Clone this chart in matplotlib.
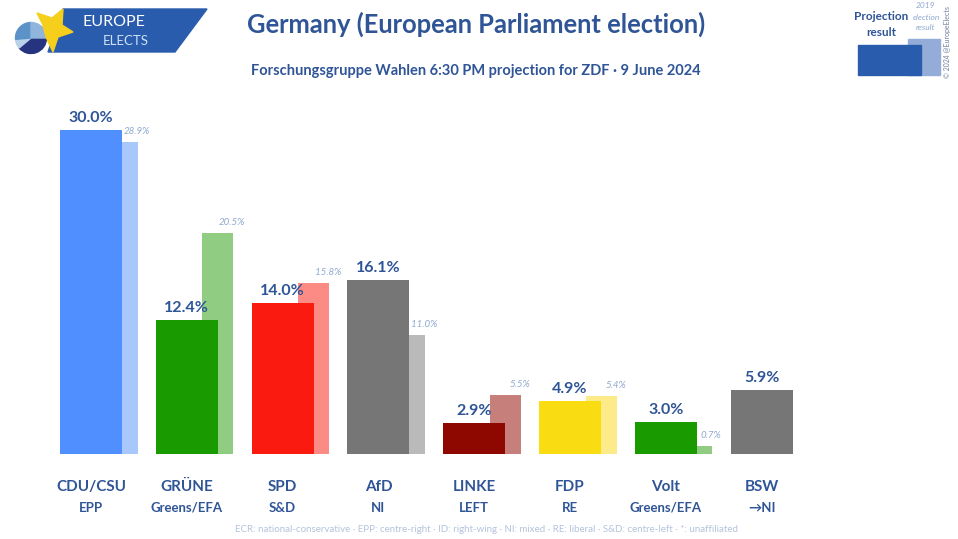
import matplotlib
matplotlib.use('Agg')
import matplotlib.pyplot as plt
from matplotlib.patches import Polygon, Wedge, Rectangle

plt.rcParams['font.family'] = ['Lato', 'DejaVu Sans']

parties = ['CDU/CSU', 'GRÜNE', 'SPD', 'AfD', 'LINKE', 'FDP', 'Volt', 'BSW']
groups = ['EPP', 'Greens/EFA', 'S&D', 'NI', 'LEFT', 'RE', 'Greens/EFA', '→NI']
result = [30.0, 12.4, 14.0, 16.1, 2.9, 4.9, 3.0, 5.9]
prev = [28.9, 20.5, 15.8, 11.0, 5.5, 5.4, 0.7, None]
colors = ['#4f8fff', '#199b00', '#fb1a10', '#767676', '#8f0800', '#f9dc12', '#199b00', '#767676']
prev_colors = ['#a8c8fc', '#90cd82', '#fc8b85', '#bababa', '#c77f7c', '#fdeb8a', '#90cd82', '#bababa']

NAVY = '#2f5597'
LIGHT = '#8fa8d0'
W, H = 958, 539

fig = plt.figure(figsize=(W / 100, H / 100), dpi=100)

# chart axes, x in party index, y in percent
ax = fig.add_axes([0, 0, 1, 1])
step = 95.8
per_pct = 10.8
ax.set_xlim(-60 / step, (W - 60) / step)
ax.set_ylim(-(H - 454) / per_pct, 454 / per_pct)
ax.axis('off')

bar_w = 62 / step
back_off = 46.5 / step
back_w = 31 / step
for i in range(len(parties)):
    if prev[i] is not None:
        ax.bar(i + back_off, prev[i], back_w, align='edge', color=prev_colors[i], zorder=1)
        ax.text(i + back_off + back_w - 0.01, prev[i] + 0.55, '%.1f%%' % prev[i], ha='center', va='bottom',
                fontsize=7, style='italic', color=LIGHT, zorder=3)
    ax.bar(i, result[i], bar_w, align='edge', color=colors[i], zorder=2)
    ax.text(i + bar_w / 2, result[i] + 0.45, '%.1f%%' % result[i], ha='center', va='bottom',
            fontsize=11.5, fontweight='bold', color=NAVY, zorder=3)
    ax.text(i + bar_w / 2, -3.05, parties[i], ha='center', va='center', fontsize=11,
            fontweight='bold', color=NAVY)
    ax.text(i + bar_w / 2, -5.0, groups[i], ha='center', va='center', fontsize=9.5,
            fontweight='bold', color=NAVY)

# overlay in pixel coordinates (y down)
ov = fig.add_axes([0, 0, 1, 1])
ov.set_xlim(0, W)
ov.set_ylim(H, 0)
ov.axis('off')
ov.patch.set_alpha(0)

ov.text(476, 24, 'Germany (European Parliament election)', ha='center', va='center',
        fontsize=18.4, fontweight='bold', color=NAVY)
ov.text(476, 71, 'Forschungsgruppe Wahlen 6:30 PM projection for ZDF · 9 June 2024', ha='center',
        va='center', fontsize=10.5, fontweight='bold', color=NAVY)
ov.text(487, 529, 'ECR: national-conservative · EPP: centre-right · ID: right-wing · NI: mixed · RE: liberal · S&D: centre-left · *: unaffiliated',
        ha='center', va='center', fontsize=7, color='#b4c3dc')

# logo
ov.add_patch(Polygon([[63, 9], [207, 9], [175, 52], [48, 52]], color='#2a5cae', zorder=1))
for t1, t2, c in [(0, 140, '#26337f'), (140, 175, '#b9d2ea'), (175, 270, '#5b93c9'), (270, 360, '#8fb5dc')]:
    ov.add_patch(Wedge((31, 38), 15.5, t1, t2, color=c, zorder=2))
ov.add_patch(Polygon([[37, 13], [52, 18], [63, 9], [62, 25], [73, 32], [58, 37], [53, 52], [46, 37], [43, 25]],
                     color='#f6cf1c', zorder=4))
ov.text(83, 22, 'EUROPE', ha='left', va='center', fontsize=11.5, color='white', zorder=5)
ov.text(103, 41, 'ELECTS', ha='left', va='center', fontsize=9.5, color='#cfe0f5', zorder=5)

# key
ov.add_patch(Rectangle((908, 39), 32, 36, color='#94add8', zorder=1))
ov.add_patch(Rectangle((858, 45), 63, 30, color='#2a5cae', zorder=2))
ov.text(881, 17, 'Projection', ha='center', va='center', fontsize=8.5, fontweight='bold', color=NAVY)
ov.text(881, 33, 'result', ha='center', va='center', fontsize=8.5, fontweight='bold', color=NAVY)
for y, s in [(5, '2019'), (17, 'election'), (28, 'result')]:
    ov.text(926, y, s, ha='center', va='center', fontsize=6, style='italic', color=LIGHT)
ov.text(948, 42, '© 2024 @EuropeElects', ha='center', va='center', fontsize=5, rotation=90, color='#6f7f99')

fig.savefig('out.png', dpi=100)
